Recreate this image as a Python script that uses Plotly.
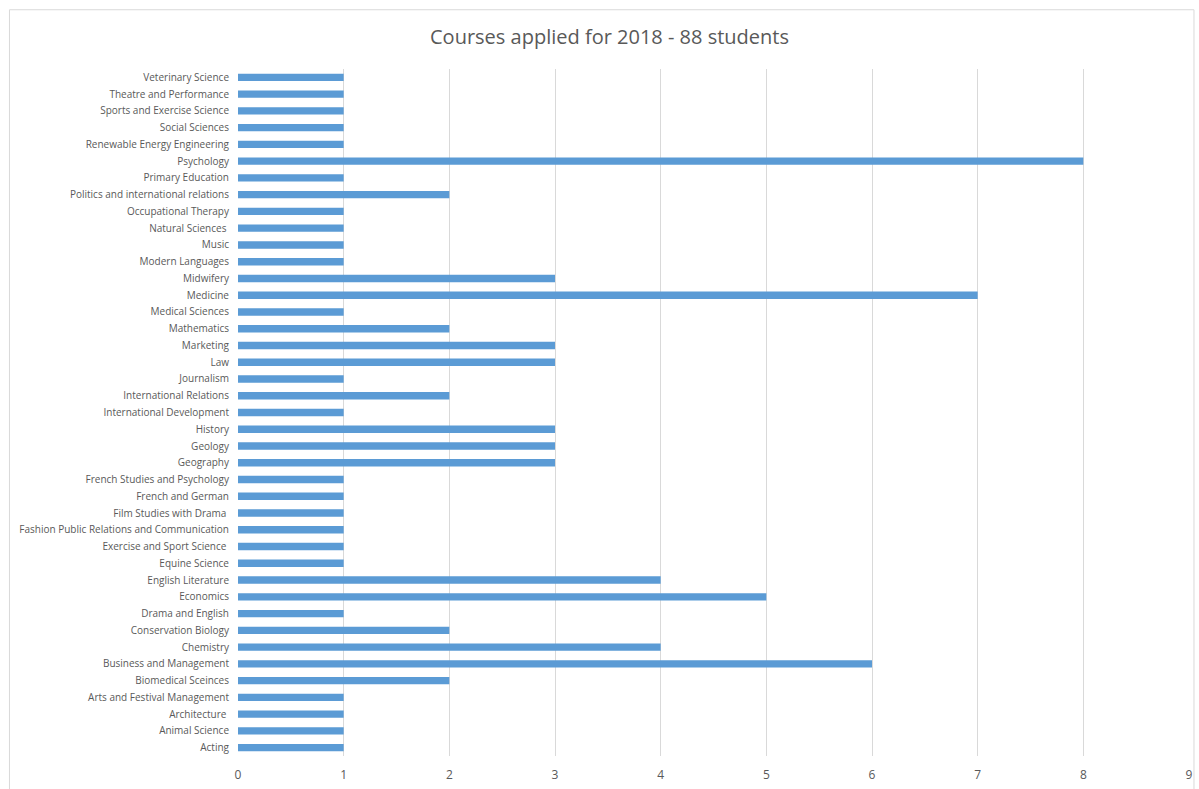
import plotly.graph_objects as go

courses = [
    "Acting", "Animal Science", "Architecture ", "Arts and Festival Management",
    "Biomedical Sceinces", "Business and Management", "Chemistry", "Conservation Biology",
    "Drama and English", "Economics", "English Literature", "Equine Science",
    "Exercise and Sport Science ", "Fashion Public Relations and Communication",
    "Film Studies with Drama ", "French and German", "French Studies and Psychology",
    "Geography", "Geology", "History", "International Development",
    "International Relations", "Journalism", "Law", "Marketing", "Mathematics",
    "Medical Sciences", "Medicine", "Midwifery", "Modern Languages", "Music",
    "Natural Sciences ", "Occupational Therapy", "Politics and international relations",
    "Primary Education", "Psychology", "Renewable Energy Engineering", "Social Sciences",
    "Sports and Exercise Science", "Theatre and Performance", "Veterinary Science",
]
students = [
    1, 1, 1, 1,
    2, 6, 4, 2,
    1, 5, 4, 1,
    1, 1,
    1, 1, 1,
    3, 3, 3, 1,
    2, 1, 3, 3, 2,
    1, 7, 3, 1, 1,
    1, 1, 2,
    1, 8, 1, 1,
    1, 1, 1,
]
x_ticks = [0, 1, 2, 3, 4, 5, 6, 7, 8, 9]

labels = [c.replace(" ", "\u00a0") if c.endswith(" ") else c for c in courses]

fig = go.Figure(go.Bar(
    x=students, y=labels, orientation="h",
    marker=dict(color="#5b9bd5", line=dict(width=0)),
    hoverinfo="x+y",
))

W, H = 1199, 789
L, R, T, B = 238, 6, 69, 30
pw, ph = W - L - R, H - T - B

fig.update_layout(
    width=W, height=H,
    margin=dict(l=L, r=R, t=T, b=B, pad=0),
    paper_bgcolor="white", plot_bgcolor="white",
    bargap=0.56,
    font=dict(family="Open Sans, Noto Sans, sans-serif", color="#595959", size=10),
    title=dict(text="Courses applied for 2018 - 88 students", x=609.5 / W, xanchor="center",
               y=1 - 37 / H, yanchor="middle",
               font=dict(size=20, color="#595959", family="Open Sans, Noto Sans, sans-serif")),
    xaxis=dict(range=[0, 9], tickvals=x_ticks, showgrid=True, gridcolor="#d9d9d9",
               gridwidth=1, zeroline=False, showline=False, ticks="",
               tickfont=dict(size=12, color="#595959"), fixedrange=True,
               ticklabelstandoff=10),
    yaxis=dict(type="category", categoryorder="array", categoryarray=labels,
               showgrid=False, zeroline=False, showline=False, ticks="",
               tickfont=dict(size=10, color="#595959"), automargin=False,
               fixedrange=True, ticklabelstandoff=8),
    showlegend=False,
    shapes=[dict(type="rect", xref="paper", yref="paper",
                 x0=(8.5 - L) / pw, x1=(1198 - L) / pw,
                 y0=(H - B - 800) / ph, y1=(H - B - 9.5) / ph,
                 line=dict(color="#d9d9d9", width=1), fillcolor="rgba(0,0,0,0)", layer="below")],
)

post = ("document.documentElement.style.margin='0';document.documentElement.style.padding='0';"
        "document.documentElement.style.overflow='hidden';"
        "document.body.style.margin='0';document.body.style.padding='0';"
        "document.body.style.overflow='hidden';")

fig.write_html("out.html", post_script=post, config={"displayModeBar": False})
